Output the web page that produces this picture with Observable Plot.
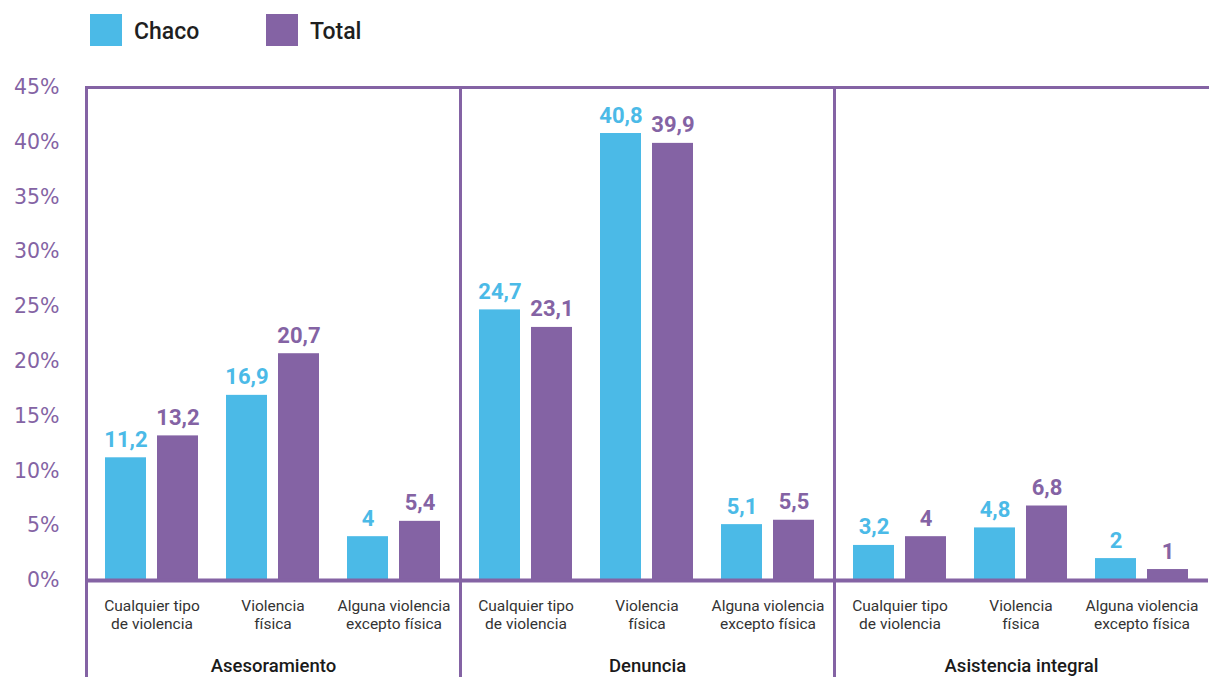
<!DOCTYPE html>
<html>
<head>
<meta charset="utf-8">
<script src="https://cdn.jsdelivr.net/npm/d3@7"></script>
<script src="https://cdn.jsdelivr.net/npm/@observablehq/plot@0.6"></script>
<style>
  html, body { margin: 0; padding: 0; background: #fff; }
  #legend { position: relative; height: 60px; width: 1209px; font-family: Roboto, sans-serif; }
  .sw { position: absolute; top: 14px; width: 32px; height: 32px; }
  .lt { position: absolute; top: 15px; font-size: 23px; font-weight: 500; color: #1f1f1f; line-height: 34px; }
  svg { display: block; overflow: visible; }
</style>
</head>
<body>
<div id="legend"></div>
<div id="chart"></div>
<script>
const groups = ["Asesoramiento", "Denuncia", "Asistencia integral"];
const categories = ["Cualquier tipo de violencia", "Violencia física", "Alguna violencia excepto física"];
const categoryLines = ["Cualquier tipo\nde violencia", "Violencia\nfísica", "Alguna violencia\nexcepto física"];
const seriesNames = ["Chaco", "Total"];
const chacoValues = [11.2, 16.9, 4, 24.7, 40.8, 5.1, 3.2, 4.8, 2];
const totalValues = [13.2, 20.7, 5.4, 23.1, 39.9, 5.5, 4, 6.8, 1];
const yTicks = [0, 5, 10, 15, 20, 25, 30, 35, 40, 45];

const BLUE = "#4bbae7";
const PURPLE = "#8463a4";

const rows = [];
groups.forEach((g, i) => {
  categories.forEach((c, j) => {
    rows.push({group: g, category: c, series: "Chaco", value: chacoValues[i * 3 + j]});
    rows.push({group: g, category: c, series: "Total", value: totalValues[i * 3 + j]});
  });
});
const chaco = rows.filter(d => d.series === "Chaco");
const total = rows.filter(d => d.series === "Total");
const fmt = v => String(v).replace(".", ",");

// Legend
const legend = document.getElementById("legend");
[[seriesNames[0], BLUE, 90, 134], [seriesNames[1], PURPLE, 266, 310]].forEach(([name, color, sx, tx]) => {
  const s = document.createElement("div");
  s.className = "sw"; s.style.left = sx + "px"; s.style.background = color;
  legend.appendChild(s);
  const t = document.createElement("div");
  t.className = "lt"; t.style.left = tx + "px"; t.textContent = name;
  legend.appendChild(t);
});

const chart = Plot.plot({
  width: 1209,
  height: 617,
  marginTop: 27,
  marginBottom: 97,
  marginLeft: 85,
  marginRight: 0,
  style: {fontFamily: "Roboto, sans-serif", background: "#fff", overflow: "visible"},
  fx: {domain: groups, padding: 0, label: null},
  x: {domain: categories, paddingInner: 0.23, paddingOuter: 0.15, label: null},
  y: {domain: [0, 45], label: null},
  marks: [
    Plot.frame({anchor: "top", stroke: PURPLE, strokeWidth: 3}),
    Plot.frame({anchor: "left", stroke: PURPLE, strokeWidth: 3, insetBottom: -97}),
    Plot.barY(chaco, {fx: "group", x: "category", y: "value", fill: BLUE, insetRight: 52}),
    Plot.barY(total, {fx: "group", x: "category", y: "value", fill: PURPLE, insetLeft: 52}),
    Plot.ruleY([0], {stroke: PURPLE, strokeWidth: 4}),
    Plot.text(chaco, {fx: "group", x: "category", y: "value", text: d => fmt(d.value), dx: -26, dy: -11,
      lineAnchor: "bottom", fill: BLUE, fontSize: 22, fontWeight: "bold"}),
    Plot.text(total, {fx: "group", x: "category", y: "value", text: d => fmt(d.value), dx: 26, dy: -11,
      lineAnchor: "bottom", fill: PURPLE, fontSize: 22, fontWeight: "bold"}),
    Plot.axisY({ticks: yTicks, tickFormat: d => d + "%", tickSize: 0, tickPadding: 27, fontSize: 20.5,
      fill: PURPLE, label: null, fontFamily: "DejaVu Sans"}),
    Plot.axisX({tickSize: 0, tickPadding: 17, tickFormat: d => categoryLines[categories.indexOf(d)],
      fontSize: 15.5, lineHeight: 1.2, fill: "#333", label: null}),
    Plot.axisFx({anchor: "bottom", tickSize: 0, tickPadding: 78, fontSize: 18.5, fontWeight: 500,
      fill: "#1a1a1a", label: null})
  ]
});
document.getElementById("chart").appendChild(chart);
</script>
</body>
</html>
